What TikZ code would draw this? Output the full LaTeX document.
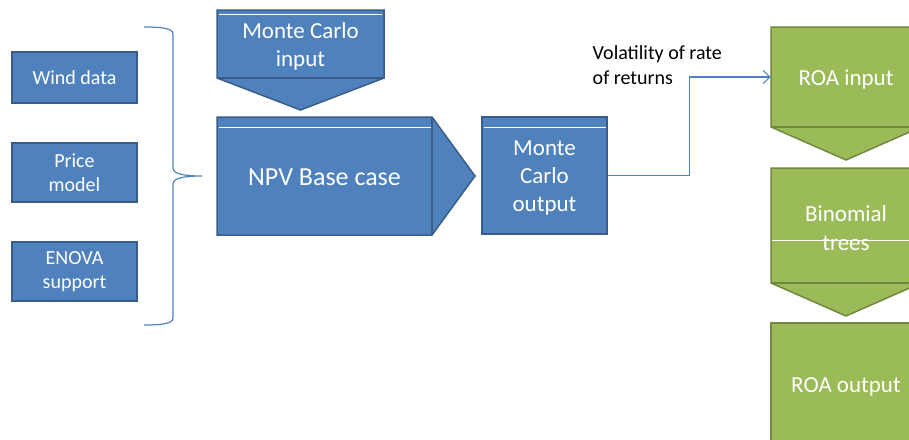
\documentclass[tikz,border=0pt]{standalone}
\usepackage{fontspec}
\setmainfont{Carlito}
\usetikzlibrary{arrows.meta}
\definecolor{bfill}{HTML}{4F81BD}
\definecolor{bline}{HTML}{385D8A}
\definecolor{gfill}{HTML}{9BBB59}
\definecolor{gline}{HTML}{71893F}
\begin{document}
\begin{tikzpicture}[x=1pt,y=-1pt,
  bshape/.style={fill=bfill, draw=bline, line width=1.5pt, line join=miter},
  gshape/.style={fill=gfill, draw=gline, line width=1.5pt, line join=miter},
  bbox/.style={bshape, text=white, align=center, inner sep=0pt},
  txt/.style={text=white, align=center, inner sep=0pt},
  hl/.style={draw=white, line width=0.9pt},
  conn/.style={draw=bfill, line width=1.1pt, -{Straight Barb[length=7pt,width=13pt,line width=1pt]}},
  fsA/.style={font=\fontsize{20}{24.4}\selectfont},
  fsB/.style={font=\fontsize{23}{28.2}\selectfont},
  fsC/.style={font=\fontsize{26}{31.7}\selectfont}]
\useasboundingbox (0,0) rectangle (909,439);
\clip (0,0) rectangle (909,439);

% left input boxes
\node[bbox, fsA, minimum width=125pt, minimum height=51pt] (wind) at (74.5,77.5) {Wind data};
\node[bbox, fsA, minimum width=125pt, minimum height=59pt] (price) at (74.5,172.5) {Price\\model};
\node[bbox, fsA, minimum width=125pt, minimum height=59pt] (enova) at (74.5,271.5) {ENOVA\\support};

% brace
\draw[draw=bfill, line width=1.2pt]
  (144,27) .. controls (160,27) and (173,28) .. (173,34) -- (173,168)
  .. controls (173,174) and (184,176) .. (202,176)
  .. controls (184,176) and (173,178) .. (173,184) -- (173,318)
  .. controls (173,324) and (160,325) .. (144,325);
\coordinate (bracetip) at (202,176);

% Monte Carlo input
\path[bshape] (217,10) -- (384,10) -- (384,78) -- (300.5,110) -- (217,78) -- cycle;
\draw[bline, line width=1.5pt] (217,78) -- (384,78);
\draw[hl] (219,14) -- (382,14);
\node[txt, fsB] (mcin) at (300.5,46.5) {Monte Carlo\\input};

% NPV base case
\path[bshape] (217,117) -- (432,117) -- (475,176) -- (432,235) -- (217,235) -- cycle;
\draw[bline, line width=1.5pt] (432,117) -- (432,235);
\draw[hl] (219,127) -- (431,127);
\node[txt, fsC] (npv) at (324.5,177.5) {NPV Base case};

% Monte Carlo output
\node[bbox, minimum width=125pt, minimum height=117pt] (mcout) at (544.5,175.5) {};
\draw[hl] (484,127.5) -- (606,127.5);
\node[txt, fsB] (mcouttext) at (544.5,178) {Monte\\Carlo\\output};

% ROA input
\path[gshape] (771,27) -- (921,27) -- (921,127) -- (846,160) -- (771,127) -- cycle;
\draw[gline, line width=1.5pt] (771,127) -- (921,127);
\node[inner sep=0pt, minimum width=150pt, minimum height=100pt] (roain) at (846,77) {};
\node[txt, fsB] (roaintext) at (846,79.5) {ROA input};

% Binomial trees
\path[gshape] (771,168) -- (921,168) -- (921,283) -- (846,316) -- (771,283) -- cycle;
\draw[gline, line width=1.5pt] (771,283) -- (921,283);
\node[txt, fsB] (binom) at (846,228) {Binomial\\trees};
\draw[hl] (772,240) -- (921,240);

% ROA output
\path[gshape] (771,323) -- (921,323) -- (921,460) -- (771,460) -- cycle;
\node[txt, fsB] (roaout) at (846,386.5) {ROA output};

% connector and label
\draw[conn] (mcout.east) -- ++(82,0) |- (roain.west);
\node[anchor=west, align=left, inner sep=0pt, fsA] (vol) at (592.5,65) {Volatility of rate\\of returns};
\end{tikzpicture}
\end{document}
